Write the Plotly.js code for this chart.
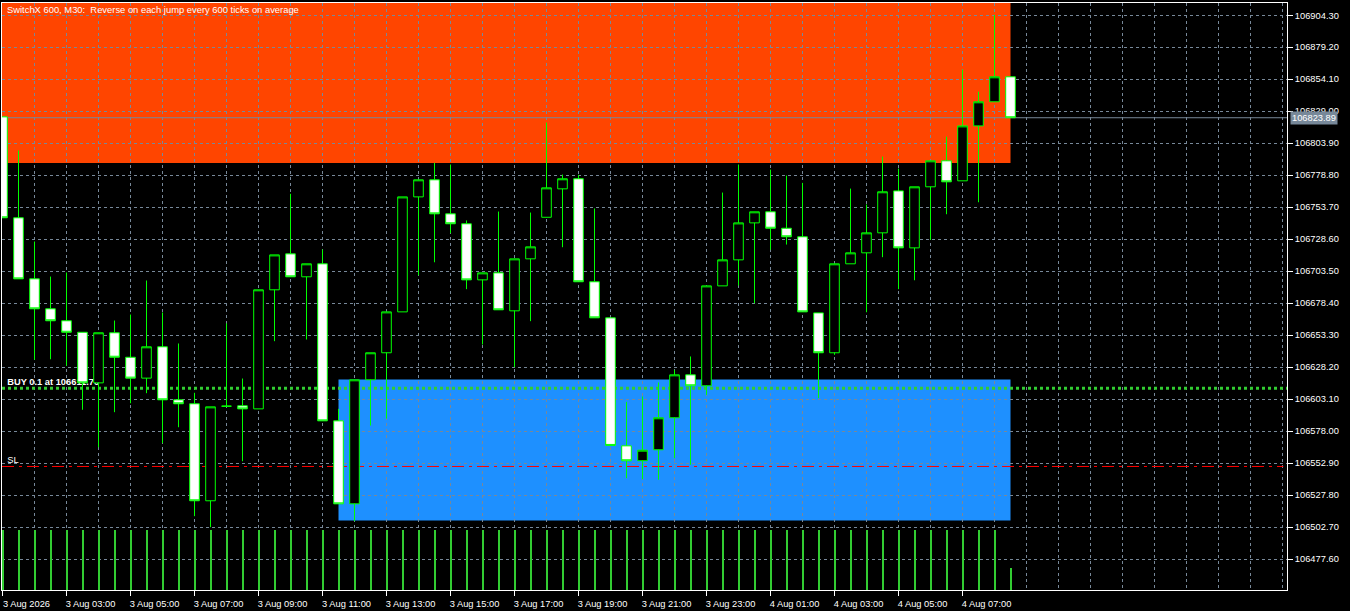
<!DOCTYPE html>
<html>
<head>
<meta charset="utf-8">
<script src="https://cdn.plot.ly/plotly-3.0.1.min.js"></script>
<style>html,body{margin:0;padding:0;background:#000;}#chart{width:1350px;height:611px;}</style>
</head>
<body>
<div id="chart"></div>
<script>
// 30-minute custom bars, 3 Aug 2026 01:00 .. 4 Aug 2026 08:30
const opens = [106824.6,106745.4,106697.5,106674.0,106664.6,106655.6,106615.9,106655.2,106636.0,106619.6,
  106644.2,106602.6,106599.5,106523.4,106597.6,106597.9,106595.5,106688.9,106717.1,106699.1,
  106709.3,106586.1,106521.0,106618.3,106639.5,106671.6,106761.8,106775.2,106748.5,106740.7,
  106696.7,106702.2,106672.4,106713.2,106745.8,106768.1,106776.0,106695.2,106666.9,106566.5,
  106554.8,106563.4,106588.5,106622.2,106613.6,106692.0,106712.4,106741.4,106750.1,106737.2,
  106730.5,106670.8,106639.5,106709.3,106717.9,106733.6,106766.5,106721.8,106769.7,106790.1,
  106774.4,106817.5,106836.4,106856.0];
const highs = [106824.6,106798.2,106726.8,106699.3,106702.5,106655.6,106655.2,106664.8,106669.5,106696.2,
  106671.1,106646.8,106608.1,106597.1,106662.5,106619.3,106688.9,106716.3,106764.2,106709.3,
  106720.5,106595.5,106618.3,106639.5,106671.6,106761.8,106775.2,106788.5,106787.2,106743.3,
  106702.2,106750.3,106713.2,106749.5,106820.1,106779.3,106779.1,106752.7,106666.9,106601.0,
  106605.2,106616.2,106626.1,106636.6,106692.0,106765.2,106787.2,106750.1,106783.2,106778.5,
  106772.8,106670.8,106709.3,106768.3,106755.8,106793.4,106784.0,106769.7,106790.1,106809.1,
  106861.7,106844.4,106904.6,106856.0];
const lows = [106745.4,106697.5,106634.0,106634.4,106629.3,106594.8,106565.4,106592.9,106599.9,106607.8,
  106568.6,106581.1,106511.3,106502.7,106597.6,106554.4,106595.5,106648.6,106699.1,106649.9,
  106586.1,106521.0,106507.4,106582.4,106587.9,106671.6,106700.3,106710.5,106733.3,106689.4,
  106646.0,106673.2,106628.2,106664.3,106745.8,106722.3,106695.2,106666.9,106566.8,106541.1,
  106540.3,106539.9,106556.8,106551.6,106606.5,106692.0,106692.3,106678.4,106720.3,106724.4,
  106671.6,106603.9,106637.9,106709.3,106671.3,106714.5,106689.4,106696.4,106728.1,106748.2,
  106774.4,106757.6,106836.4,106823.89];
const closes = [106745.4,106697.5,106674.0,106664.6,106655.6,106615.9,106655.2,106636.0,106619.6,106644.2,
  106602.6,106599.5,106523.4,106597.1,106597.6,106595.5,106688.9,106716.3,106699.1,106709.3,
  106586.1,106521.0,106618.3,106639.5,106671.6,106761.8,106775.2,106748.5,106740.7,106696.7,
  106702.2,106673.2,106713.2,106722.6,106768.9,106776.0,106695.2,106666.9,106566.8,106554.8,
  106563.1,106588.5,106622.2,106613.6,106692.0,106712.4,106741.4,106750.1,106737.2,106730.5,
  106671.6,106639.5,106709.3,106717.9,106733.6,106765.8,106721.8,106769.7,106790.1,106773.6,
  106817.5,106836.4,106856.0,106823.89];
const volumes = [600,600,600,600,600,600,600,600,600,600,600,600,600,600,600,600,
  600,600,600,600,600,600,600,600,600,600,600,600,600,600,600,600,
  600,600,600,600,600,600,600,600,600,600,600,600,600,600,600,600,
  600,600,600,600,600,600,600,600,600,600,600,600,600,600,600,220];
const tickBars = [0,4,8,12,16,20,24,28,32,36,40,44,48,52,56,60];
const tickLabels = ["3 Aug 2026","3 Aug 03:00","3 Aug 05:00","3 Aug 07:00","3 Aug 09:00","3 Aug 11:00",
  "3 Aug 13:00","3 Aug 15:00","3 Aug 17:00","3 Aug 19:00","3 Aug 21:00","3 Aug 23:00",
  "4 Aug 01:00","4 Aug 03:00","4 Aug 05:00","4 Aug 07:00"];
const currentPrice = 106823.89;
const buyPrice = 106611.7;
const slPrice = 106550.3;
const sellZone = {fromBar: -3, toBar: 63, low: 106788.4, high: 106960};
const buyZone = {fromBar: 21, toBar: 63, low: 106507.9, high: 106618.5};
const titleText = "SwitchX 600, M30:\u00a0 Reverse on each jump every 600 ticks on average";

const bars = opens.map((_, i) => i);
const FONT = "Liberation Sans, Arial, sans-serif";
const FS = 9.3;
const GRID = "#778899";
const X_RANGE = [-0.03125, 80.28125];

const traces = [
  {type:'bar', x: bars, y: volumes, yaxis:'y2', width:0.125, offset:-0.03125,
   marker:{color:'#32CD32', line:{width:0}}, hoverinfo:'skip', showlegend:false},
  {type:'candlestick', x: bars, open: opens, high: highs, low: lows, close: closes,
   increasing:{line:{color:'#00FF00', width:1}, fillcolor:'#000000'},
   decreasing:{line:{color:'#00FF00', width:1}, fillcolor:'#FFFFFF'},
   whiskerwidth:0, showlegend:false, hoverinfo:'skip'}
];

const layout = {
  width:1350, height:611,
  margin:{l:2, r:63, t:3, b:21, pad:0},
  paper_bgcolor:'#000000', plot_bgcolor:'#000000',
  font:{family:FONT, size:FS, color:'#FFFFFF'},
  showlegend:false,
  boxgap:0.2, boxgroupgap:0.25, bargap:0,
  title:{text:titleText, x:7/1350, xref:'container', xanchor:'left', y:1-10/611, yanchor:'middle',
         font:{family:FONT, size:9.4, color:'#FFFFFF'}},
  xaxis:{range:X_RANGE, tickmode:'array', tickvals: tickBars, ticktext: tickLabels,
         ticks:'outside', ticklen:5, tickcolor:'#FFFFFF', ticklabelshift:24,
         showline:true, linecolor:'#FFFFFF', linewidth:1, mirror:true,
         showgrid:true, gridcolor:GRID, griddash:'3px,3px', gridwidth:1, zeroline:false,
         minor:{tickmode:'linear', tick0:0, dtick:2, showgrid:true, gridcolor:GRID, griddash:'3px,3px', gridwidth:1, ticks:''},
         rangeslider:{visible:false}, fixedrange:true,
         tickfont:{family:FONT, size:FS, color:'#FFFFFF'}},
  yaxis:{range:[106453.4, 106913.9], side:'right', tickmode:'linear', tick0:106477.60, dtick:25.1,
         tickformat:'.2f', ticks:'outside', ticklen:5, tickcolor:'#FFFFFF',
         showline:true, linecolor:'#FFFFFF', linewidth:1, mirror:true,
         showgrid:true, gridcolor:GRID, griddash:'3px,3px', gridwidth:1, zeroline:false, fixedrange:true,
         tickfont:{family:FONT, size:FS, color:'#FFFFFF'}},
  yaxis2:{overlaying:'y', range:[0, 5870], visible:false, fixedrange:true, showgrid:false},
  shapes:[
    {type:'rect', xref:'x', yref:'y', x0:sellZone.fromBar, x1:sellZone.toBar, y0:sellZone.low, y1:sellZone.high,
     fillcolor:'#FF4500', line:{width:0}, layer:'below'},
    {type:'rect', xref:'x', yref:'y', x0:buyZone.fromBar, x1:buyZone.toBar, y0:buyZone.low, y1:buyZone.high,
     fillcolor:'#1E90FF', line:{width:0}, layer:'below'},
    {type:'line', xref:'x', yref:'y', x0:X_RANGE[0], x1:X_RANGE[1], y0:currentPrice, y1:currentPrice,
     line:{color:'#778899', width:1}, layer:'between'},
    {type:'line', xref:'x', yref:'y', x0:X_RANGE[0], x1:X_RANGE[1], y0:buyPrice, y1:buyPrice,
     line:{color:'#32CD32', width:3, dash:'dot'}, layer:'between'},
    {type:'line', xref:'x', yref:'y', x0:X_RANGE[0], x1:80.05, y0:slPrice, y1:slPrice,
     line:{color:'#FF0000', width:1, dash:'12px,5px,3px,5px'}, layer:'between'},
    {type:'line', xref:'x', yref:'y', x0:0.3, x1:20, y0:buyPrice, y1:buyPrice,
     line:{color:'rgba(0,0,0,0)', width:0}, layer:'between',
     label:{text:'BUY 0.1 at ' + buyPrice.toFixed(2), textposition:'start', yanchor:'bottom', padding:3,
            font:{family:FONT, size:FS, color:'#FFFFFF', weight:'bold'}}},
    {type:'line', xref:'x', yref:'y', x0:0.3, x1:20, y0:slPrice, y1:slPrice,
     line:{color:'rgba(0,0,0,0)', width:0}, layer:'between',
     label:{text:'SL', textposition:'start', yanchor:'bottom', padding:3,
            font:{family:FONT, size:FS, color:'#FFFFFF'}}}
  ],
  annotations:[
    {xref:'paper', yref:'y', x:1, y:currentPrice, xanchor:'left', yanchor:'middle', xshift:3,
     text: currentPrice.toFixed(2), showarrow:false, bgcolor:'#778899', borderpad:1,
     font:{family:FONT, size:FS, color:'#FFFFFF'}}
  ]
};

Plotly.newPlot('chart', traces, layout, {staticPlot:true, displayModeBar:false});
</script>
</body>
</html>
